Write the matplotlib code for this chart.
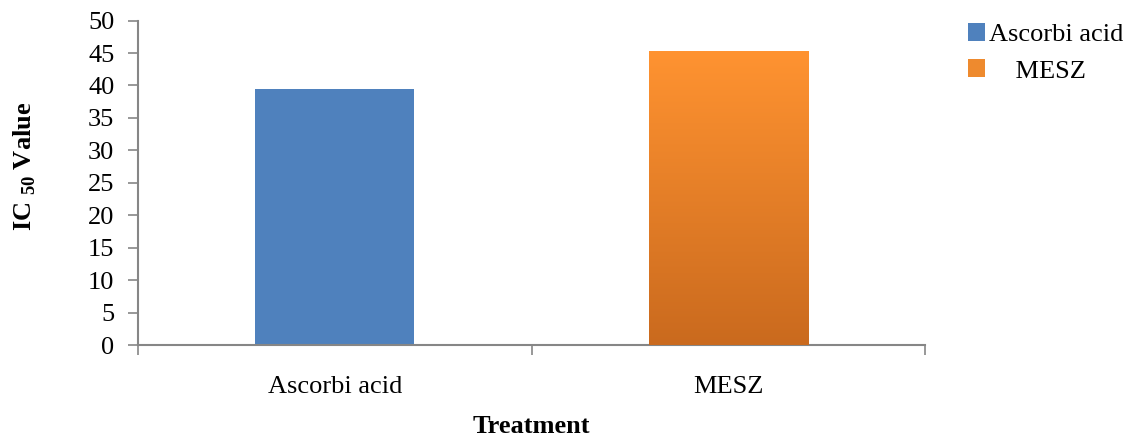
import numpy as np
import matplotlib
matplotlib.use("Agg")
import matplotlib.pyplot as plt
from matplotlib.colors import LinearSegmentedColormap
from matplotlib.patches import Patch

treatments = ["Ascorbi acid", "MESZ"]
ic50 = [39.5, 45.3]
legend_labels = ["Ascorbi acid", "    MESZ"]
yticks = [0, 5, 10, 15, 20, 25, 30, 35, 40, 45, 50]

plt.rcParams['font.family'] = ['Liberation Serif', 'DejaVu Serif']
plt.rcParams['mathtext.fontset'] = 'custom'
plt.rcParams['mathtext.rm'] = 'Liberation Serif:bold'
plt.rcParams['mathtext.bf'] = 'Liberation Serif:bold'

blue = "#4F81BD"
orange_top = "#FF9331"
orange_bot = "#CA6A1E"
grey = "#868686"
fs = 19

fig = plt.figure(figsize=(11.25, 4.36), dpi=100)
ax = fig.add_axes([0.1227, 0.2087, 0.6995, 0.744])

x = np.arange(len(treatments))
bars = ax.bar(x, ic50, width=0.405, color=[blue, orange_top], zorder=2)

# gradient fill on the MESZ bar
grad_cmap = LinearSegmentedColormap.from_list("og", [orange_bot, orange_top])
b = bars[1]
gx0, gw, gh = b.get_x(), b.get_width(), b.get_height()
grad = np.linspace(0, 1, 256).reshape(-1, 1)
im = ax.imshow(grad, cmap=grad_cmap, origin="lower", aspect="auto",
               extent=[gx0, gx0 + gw, 0, gh], zorder=3)
im.set_clip_path(b)

ax.set_xlim(-0.5, 1.5)
ax.set_ylim(0, 50)
ax.set_yticks(yticks)
ax.set_xticks([-0.5, 0.5, 1.5])
ax.set_xticklabels([])
ax.set_xticks(x, minor=True)
ax.set_xticklabels(treatments, minor=True, fontsize=fs)
ax.tick_params(axis='x', which='minor', length=0, pad=22)
ax.tick_params(axis='x', which='major', length=7, color=grey, width=1.2)
ax.tick_params(axis='y', length=7, color=grey, width=1.2, labelsize=fs, pad=10)

for s in ['top', 'right']:
    ax.spines[s].set_visible(False)
for s in ['left', 'bottom']:
    ax.spines[s].set_color(grey)
    ax.spines[s].set_linewidth(1.5)

ax.set_xlabel("Treatment", fontsize=fs, fontweight='bold')
ax.xaxis.set_label_coords(0.5, -0.215)
ax.set_ylabel(r"IC $_{50}$ Value", fontsize=fs, fontweight='bold')
ax.yaxis.set_label_coords(-0.127, 0.55)

handles = [Patch(facecolor=blue), Patch(facecolor="#EE8A2E")]
fig.legend(handles, legend_labels, loc='upper left', bbox_to_anchor=(0.853, 0.965),
           frameon=False, fontsize=fs, handlelength=0.65, handleheight=0.65,
           handletextpad=0.18, labelspacing=0.5, borderaxespad=0, borderpad=0.3)

fig.savefig("out.png", dpi=100)
